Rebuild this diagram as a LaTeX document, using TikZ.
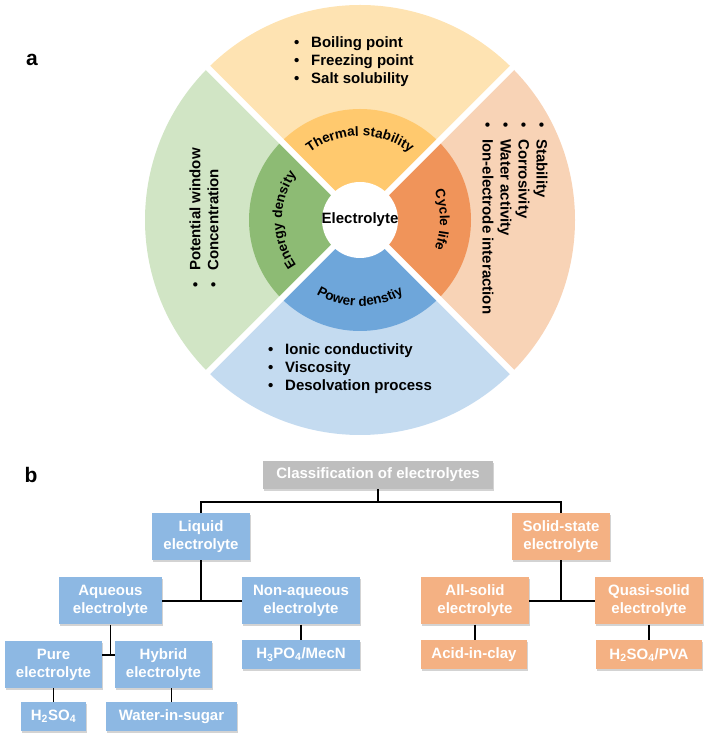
\documentclass[tikz,border=0pt]{standalone}
\usepackage{fontspec}
\setmainfont{Liberation Sans}
\usepackage{xcolor}
\usepackage{tikz}
\usetikzlibrary{positioning,calc,decorations.text,shadows}
\definecolor{thermlight}{RGB}{254,227,178}
\definecolor{thermdark}{RGB}{255,201,110}
\definecolor{energylight}{RGB}{209,229,197}
\definecolor{energydark}{RGB}{141,187,116}
\definecolor{cyclelight}{RGB}{248,211,182}
\definecolor{cycledark}{RGB}{240,148,90}
\definecolor{powerlight}{RGB}{196,219,240}
\definecolor{powerdark}{RGB}{110,166,218}
\definecolor{liquidblue}{RGB}{141,184,227}
\definecolor{solidorange}{RGB}{244,177,131}
\definecolor{classgray}{RGB}{190,190,190}
\newcommand{\itm}[1]{\makebox[17pt][l]{\textbullet}#1}
\newcommand{\arcfont}{\fontsize{13.5}{16}\selectfont\bfseries}

\begin{document}
\begin{tikzpicture}[x=1pt, y=1pt,
    props/.style={inner sep=0pt, align=left, font=\fontsize{15}{18}\selectfont\bfseries},
    tbox/.style={inner sep=0pt, align=center, text=white, font=\fontsize{15}{18}\selectfont\bfseries,
        drop shadow={shadow xshift=0.6pt, shadow yshift=-2pt, opacity=0.35}},
    liq/.style={tbox, fill=liquidblue},
    sol/.style={tbox, fill=solidorange},
    two/.style={minimum height=47pt},
    one/.style={minimum height=29pt},
    link/.style={line width=1.4pt, black},
    arclabel/.style={decorate, decoration={text along path, text align=center, text={|\arcfont|#1}}},
    panel/.style={font=\fontsize{21}{21}\selectfont\bfseries}
]
\useasboundingbox (0,0) rectangle (708,736);

\node[panel] (pa) at (32,676) {a};
\node[panel] (pb) at (31,261) {b};

% wheel
\begin{scope}[shift={(360,516)}]
\fill[thermlight] (0,0) -- (45:215) arc (45:135:215) -- cycle;
\fill[energylight] (0,0) -- (135:215) arc (135:225:215) -- cycle;
\fill[powerlight] (0,0) -- (225:215) arc (225:315:215) -- cycle;
\fill[cyclelight] (0,0) -- (-45:215) arc (-45:45:215) -- cycle;
\fill[thermdark] (0,0) -- (45:111) arc (45:135:111) -- cycle;
\fill[energydark] (0,0) -- (135:111) arc (135:225:111) -- cycle;
\fill[powerdark] (0,0) -- (225:111) arc (225:315:111) -- cycle;
\fill[cycledark] (0,0) -- (-45:111) arc (-45:45:111) -- cycle;
\foreach \a in {45,135}
    \draw[white, line width=6pt] (\a:217) -- (\a+180:217);
\fill[white] (0,0) circle (38);
\node[font=\fontsize{15}{18}\selectfont\bfseries] (core) at (0,0) {Electrolyte};
\path[arclabel=Thermal stability] (150:84) arc (150:30:84);
\path[arclabel=Cycle life] (50:80) arc (50:-50:80);
\path[arclabel=Energy density] (240:78) arc (240:120:78);
\path[arclabel=Power denstiy] (215:86) arc (215:325:86);
\end{scope}

\node[props, anchor=west] (thermprops) at (294,674)
    {\itm{Boiling point}\\\itm{Freezing point}\\\itm{Salt solubility}};
\node[props, anchor=west, rotate=-90] (cycleprops) at (515,614)
    {\itm{Stability}\\\itm{Corrosivity}\\\itm{Water activity}\\\itm{Ion-electrode interaction}};
\node[props, anchor=west, rotate=90] (energyprops) at (204,448)
    {\itm{Potential window}\\\itm{Concentration}};
\node[props, anchor=west] (powerprops) at (268,367)
    {\itm{Ionic conductivity}\\\itm{Viscosity}\\\itm{Desolvation process}};

% classification tree
\node[tbox, fill=classgray, minimum width=230pt, minimum height=28pt] (cls) at (378,261) {Classification of electrolytes};
\node[liq, two, minimum width=98pt] (liquid) at (201,199.5) {Liquid\\electrolyte};
\node[sol, two, minimum width=98pt] (solid) at (561,199.5) {Solid-state\\electrolyte};
\node[liq, two, minimum width=103pt] (aqueous) at (110.5,135) {Aqueous\\electrolyte};
\node[liq, two, minimum width=118pt] (nonaq) at (301,135) {Non-aqueous\\electrolyte};
\node[sol, two, minimum width=108pt] (allsolid) at (475,135) {All-solid\\electrolyte};
\node[sol, two, minimum width=108pt] (quasi) at (649,135) {Quasi-solid\\electrolyte};
\node[liq, two, minimum width=97pt] (pure) at (53.5,71.5) {Pure\\electrolyte};
\node[liq, two, minimum width=97pt] (hybrid) at (163.5,71.5) {Hybrid\\electrolyte};
\node[liq, one, minimum width=118pt] (h3po4) at (301,81.5) {H\textsubscript{3}PO\textsubscript{4}/MecN};
\node[sol, one, minimum width=106pt] (acid) at (474,81) {Acid-in-clay};
\node[sol, one, minimum width=106pt] (pva) at (649,81) {H\textsubscript{2}SO\textsubscript{4}/PVA};
\node[liq, one, minimum width=65pt] (h2so4) at (53.5,19.5) {H\textsubscript{2}SO\textsubscript{4}};
\node[liq, one, minimum width=131pt] (wis) at (171.5,19.5) {Water-in-sugar};

\coordinate (topbar) at (378,234);
\coordinate (aqsplit) at (110.5,81);
\draw[link] (cls.south) -- (topbar);
\draw[link] (liquid.north) |- (topbar) -| (solid.north);
\draw[link] (liquid) -- (liquid |- aqueous);
\draw[link] (aqueous) -- (nonaq);
\draw[link] (solid) -- (solid |- allsolid);
\draw[link] (allsolid) -- (quasi);
\draw[link] (aqueous.south) -- (aqsplit);
\draw[link] (pure.east |- aqsplit) -- (hybrid.west |- aqsplit);
\draw[link] (pure) -- (h2so4);
\draw[link] (wis.north |- hybrid.south) -- (wis.north);
\draw[link] (nonaq) -- (h3po4);
\draw[link] (allsolid.south) -- (allsolid.south |- acid.north);
\draw[link] (quasi) -- (pva);
\end{tikzpicture}
\end{document}
